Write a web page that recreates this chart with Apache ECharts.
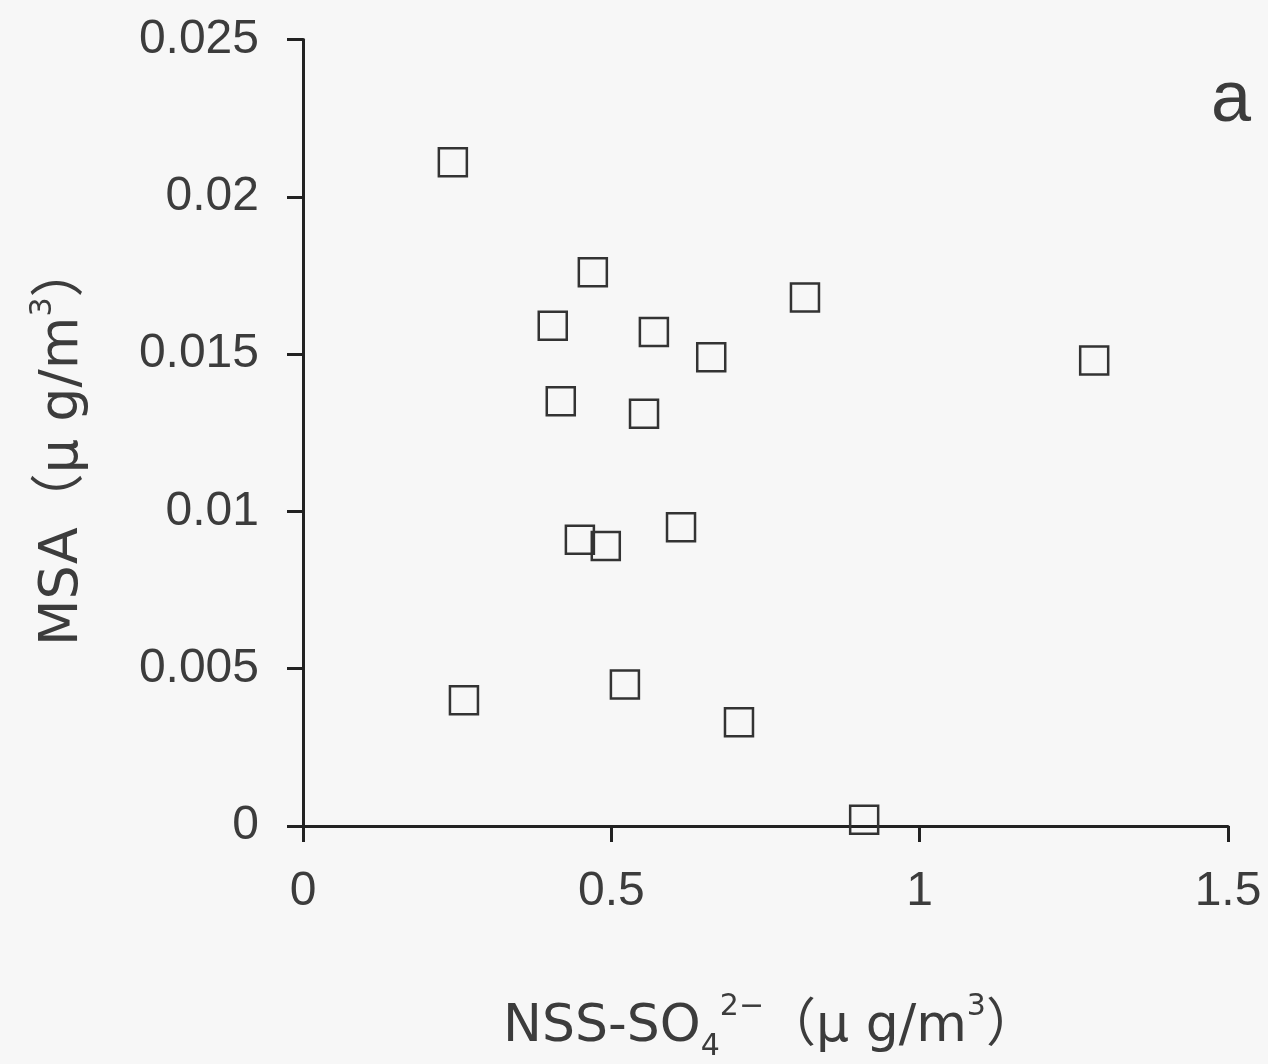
<!DOCTYPE html>
<html>
<head>
<meta charset="utf-8">
<script src="https://cdn.jsdelivr.net/npm/echarts@6/dist/echarts.min.js"></script>
<style>
html,body{margin:0;padding:0;background:#f7f7f7;}
#chart{width:1268px;height:1064px;}
</style>
</head>
<body>
<div id="chart"></div>
<script>
// NSS-SO4 2- (μg/m3)
var nssSO4 = [0.243, 0.470, 0.814, 0.405, 0.569, 0.662, 1.283, 0.418, 0.553, 0.613, 0.449, 0.491, 0.261, 0.522, 0.707, 0.910];
// MSA (μg/m3)
var msa    = [0.0211, 0.0176, 0.0168, 0.0159, 0.0157, 0.0149, 0.0148, 0.0135, 0.0131, 0.0095, 0.0091, 0.0089, 0.0040, 0.0045, 0.0033, 0.0002];
var xTicks = [0, 0.5, 1, 1.5];
var yTicks = [0, 0.005, 0.01, 0.015, 0.02, 0.025];

var points = nssSO4.map(function (x, i) { return [x, msa[i]]; });
var FONT = "'Liberation Sans', 'Noto Sans CJK JP', sans-serif";
var NFONT = "'DejaVu Sans', 'Noto Sans CJK JP', sans-serif";
var TXT = '#3c3c3c';

var chart = echarts.init(document.getElementById('chart'));
chart.setOption({
  backgroundColor: '#f7f7f7',
  animation: false,
  title: {
    text: 'a', right: 12, top: 60,
    textStyle: { fontFamily: FONT, fontSize: 72, fontWeight: 'normal', color: TXT }
  },
  grid: { left: 303, right: 40, top: 39.5, bottom: 238, containLabel: false, outerBoundsMode: 'none' },
  xAxis: {
    type: 'value', min: xTicks[0], max: xTicks[xTicks.length - 1], interval: 0.5,
    axisLine: { show: true, onZero: false, lineStyle: { color: '#222', width: 3 } },
    axisTick: { show: true, inside: false, length: 16, lineStyle: { color: '#222', width: 3 } },
    splitLine: { show: false },
    axisLabel: { margin: 42, fontFamily: FONT, fontSize: 48, color: TXT,
      formatter: function (v) { return String(v); } },
    name: '{n|NSS-SO}{sub|4}{sup|2−}{n|（μ g/m}{sup|3}{n|）}',
    nameLocation: 'middle', nameGap: 166,
    nameTextStyle: {
      fontFamily: NFONT, color: TXT, padding: [0, 0, 0, 10],
      rich: {
        n: { fontFamily: NFONT, fontSize: 52, color: TXT, lineHeight: 70, verticalAlign: 'middle' },
        sub: { fontFamily: NFONT, fontSize: 30, color: TXT, lineHeight: 28, verticalAlign: 'bottom' },
        sup: { fontFamily: NFONT, fontSize: 30, color: TXT, lineHeight: 28, verticalAlign: 'top' }
      }
    }
  },
  yAxis: {
    type: 'value', min: yTicks[0], max: yTicks[yTicks.length - 1], interval: 0.005,
    axisLine: { show: true, onZero: false, lineStyle: { color: '#222', width: 3 } },
    axisTick: { show: true, inside: false, length: 16, lineStyle: { color: '#222', width: 3 } },
    splitLine: { show: false },
    axisLabel: { margin: 44, fontFamily: FONT, fontSize: 48, color: TXT,
      formatter: function (v) { return String(+v.toFixed(3)); } },
    name: '{n|MSA（μ g/m}{sup|3}{n|）}',
    nameLocation: 'middle', nameGap: 205, nameRotate: 90,
    nameTextStyle: {
      fontFamily: NFONT, color: TXT, padding: [0, 24, 0, 0],
      rich: {
        n: { fontFamily: NFONT, fontSize: 54, color: TXT, lineHeight: 70, verticalAlign: 'middle' },
        sup: { fontFamily: NFONT, fontSize: 30, color: TXT, lineHeight: 28, verticalAlign: 'top' }
      }
    }
  },
  series: [{
    type: 'scatter',
    data: points,
    symbol: 'rect',
    symbolSize: 28,
    itemStyle: { color: 'rgba(0,0,0,0)', borderColor: '#333', borderWidth: 2.5, opacity: 1 }
  }]
});
</script>
</body>
</html>
